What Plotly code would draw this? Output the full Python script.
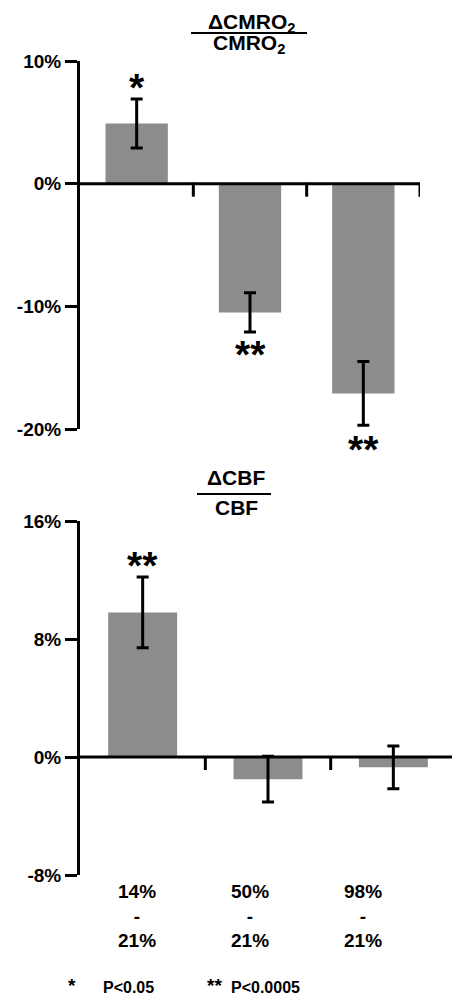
import plotly.graph_objects as go

# ---- data ----
categories = ["14% - 21%", "50% - 21%", "98% - 21%"]
category_labels = ["14%<br>-<br>21%", "50%<br>-<br>21%", "98%<br>-<br>21%"]

cmro2_change = [4.9, -10.5, -17.1]      # % change in CMRO2
cmro2_sem = [2.0, 1.6, 2.6]
cmro2_sig = ["*", "**", "**"]
cmro2_sig_y = [8.3, -13.4, -21.2]

cbf_change = [9.8, -1.5, -0.7]          # % change in CBF
cbf_sem = [2.4, 1.55, 1.45]
cbf_sig = ["**", "", ""]
cbf_sig_y = [13.4, 0, 0]

cmro2_range = [-20, 10]
cmro2_ticks = [-20, -10, 0, 10]
cmro2_ticktext = ["-20%", "-10%", "0%", "10%"]
cbf_range = [-8, 16]
cbf_ticks = [-8, 0, 8, 16]
cbf_ticktext = ["-8%", "0%", "8%", "16%"]

# ---- style ----
FONT = "Liberation Sans"
BAR_COLOR = "#8c8c8c"
W, H = 452, 999
ML, MR, MT, MB = 80, 0, 61, 124
PH = H - MT - MB
PW = W - ML - MR


def py(y_px):
    """pixel row -> paper y"""
    return (H - MB - y_px) / PH


def px(x_px):
    return (x_px - ML) / PW


fig = go.Figure()

err_style = dict(type="data", thickness=3, width=6, color="black")

fig.add_trace(go.Bar(
    x=categories, y=cmro2_change,
    error_y=dict(array=cmro2_sem, **err_style),
    marker=dict(color=BAR_COLOR, line=dict(width=0)),
    width=0.55, xaxis="x", yaxis="y", showlegend=False, hoverinfo="skip"))

fig.add_trace(go.Bar(
    x=categories, y=cbf_change,
    error_y=dict(array=cbf_sem, **err_style),
    marker=dict(color=BAR_COLOR, line=dict(width=0)),
    width=0.55, xaxis="x2", yaxis="y2", showlegend=False, hoverinfo="skip"))

yaxis_common = dict(
    showline=True, linewidth=3, linecolor="black",
    ticks="outside", ticklen=12, tickwidth=3, tickcolor="black",
    showgrid=False, zeroline=False,
    tickfont=dict(family=FONT, size=19, color="black", weight="bold"),
)
xaxis_common = dict(visible=False, type="category", showgrid=False, zeroline=False)

fig.update_layout(
    width=W, height=H,
    margin=dict(l=ML, r=MR, t=MT, b=MB),
    paper_bgcolor="white", plot_bgcolor="white",
    xaxis=dict(domain=[0, px(420)], range=[-0.5, 2.5], anchor="y", **xaxis_common),
    yaxis=dict(domain=[py(429), 1], range=cmro2_range, anchor="x",
               tickvals=cmro2_ticks, ticktext=cmro2_ticktext, **yaxis_common),
    xaxis2=dict(domain=[0, 1], range=[-0.5, 2.5 - 4 / 125], anchor="y2", **xaxis_common),
    yaxis2=dict(domain=[0, py(521)], range=cbf_range, anchor="x2",
                tickvals=cbf_ticks, ticktext=cbf_ticktext, **yaxis_common),
)

shapes = []
# zero lines acting as category axes
for xr, yr in (("x", "y"), ("x2", "y2")):
    shapes.append(dict(type="line", xref=f"{xr} domain", yref=yr, x0=0, x1=1, y0=0, y1=0,
                       line=dict(color="black", width=3), layer="above"))
    for b in (0.5, 1.5, 2.5):
        shapes.append(dict(type="line", xref=xr, yref=yr, ysizemode="pixel", yanchor=0,
                           x0=b, x1=b, y0=1, y1=-13,
                           line=dict(color="black", width=3), layer="above"))

# fraction bars of the titles
shapes.append(dict(type="line", xref="paper", yref="paper",
                   x0=px(191), x1=px(307), y0=py(33), y1=py(33),
                   line=dict(color="black", width=2)))
shapes.append(dict(type="line", xref="paper", yref="paper",
                   x0=px(197), x1=px(271), y0=py(494), y1=py(494),
                   line=dict(color="black", width=2)))

annotations = []
title_font = dict(family=FONT, size=21, color="black", weight="bold")
annotations += [
    dict(text="ΔCMRO<sub>2</sub>", x=px(251), y=py(23), xref="paper", yref="paper",
         xanchor="center", yanchor="middle", showarrow=False, font=title_font),
    dict(text="CMRO<sub>2</sub>", x=px(249), y=py(44), xref="paper", yref="paper",
         xanchor="center", yanchor="middle", showarrow=False, font=title_font),
    dict(text="ΔCBF", x=px(236), y=py(478), xref="paper", yref="paper",
         xanchor="center", yanchor="middle", showarrow=False, font=title_font),
    dict(text="CBF", x=px(236), y=py(507), xref="paper", yref="paper",
         xanchor="center", yanchor="middle", showarrow=False, font=title_font),
]

# significance stars (placed on the value scale of each panel)
star_font = dict(family=FONT, size=39, color="black", weight="bold")
for xr, yr, rng, sigs, ys in (("x", "y", cmro2_range, cmro2_sig, cmro2_sig_y),
                              ("x2", "y2", cbf_range, cbf_sig, cbf_sig_y)):
    for c, s, v in zip(categories, sigs, ys):
        if s:
            annotations.append(dict(
                text=s, x=c, y=(v - rng[0]) / (rng[1] - rng[0]),
                xref=xr, yref=f"{yr} domain", showarrow=False,
                xanchor="center", yanchor="middle", yshift=-6, font=star_font))

# category labels under bottom panel
for c, lab in zip(categories, category_labels):
    annotations.append(dict(text=lab, x=c, y=py(916), xref="x", yref="paper",
                            showarrow=False, yanchor="middle", xanchor="center",
                            font=dict(family=FONT, size=19, color="black", weight="bold")))

# significance legend
leg_font = dict(family=FONT, size=16, color="black", weight="bold")
leg_star = dict(family=FONT, size=19, color="black", weight="bold")
annotations += [
    dict(text="*", x=px(72), y=py(986), xref="paper", yref="paper", showarrow=False,
         xanchor="center", yanchor="middle", font=leg_star),
    dict(text="P<0.05", x=px(101), y=py(987), xref="paper", yref="paper", showarrow=False,
         xanchor="left", yanchor="middle", font=leg_font),
    dict(text="**", x=px(214), y=py(986), xref="paper", yref="paper", showarrow=False,
         xanchor="center", yanchor="middle", font=leg_star),
    dict(text="P<0.0005", x=px(229), y=py(987), xref="paper", yref="paper", showarrow=False,
         xanchor="left", yanchor="middle", font=leg_font),
]

fig.update_layout(shapes=shapes, annotations=annotations)

fig.write_html("out.html", config={"displayModeBar": False},
               post_script="document.body.style.margin='0';")
